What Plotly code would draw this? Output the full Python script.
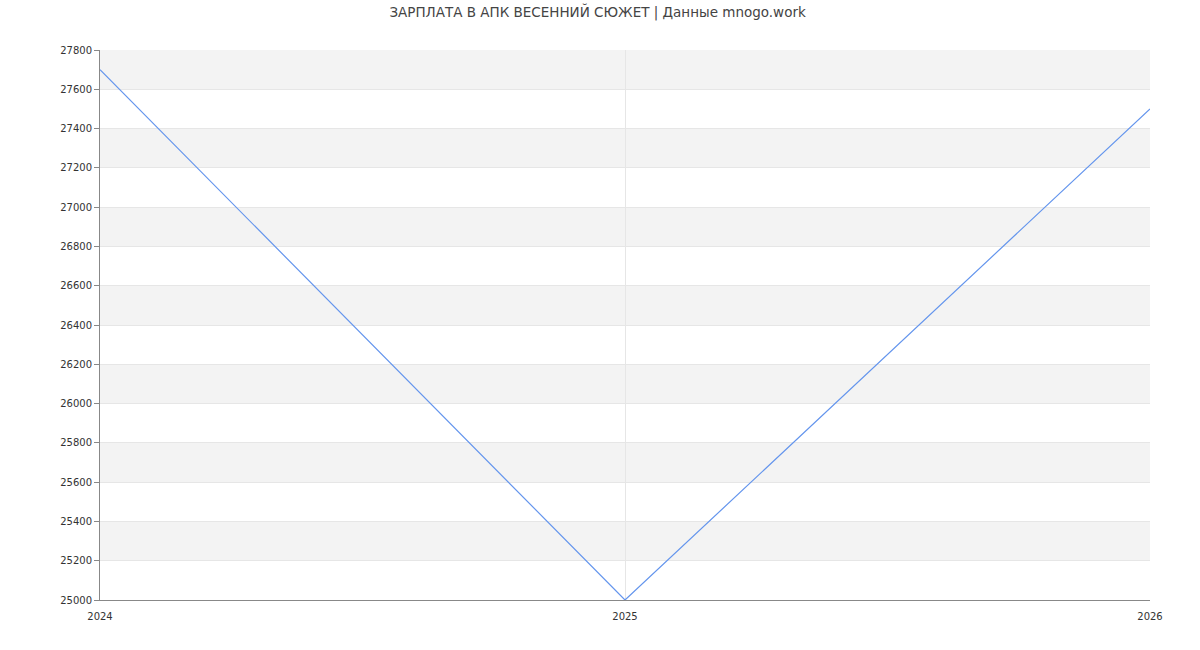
import plotly.graph_objects as go

years = [2024, 2025, 2026]
salary = [27700, 25000, 27500]
y_min, y_max, y_step = 25000, 27800, 200
title_text = "ЗАРПЛАТА В АПК ВЕСЕННИЙ СЮЖЕТ | Данные mnogo.work"

fig = go.Figure()
fig.add_trace(go.Scatter(
    x=years, y=salary, mode="lines",
    line=dict(color="#6495ED", width=1.2),
    hoverinfo="x+y", showlegend=False,
))

# alternating horizontal bands
shapes = []
lo = y_min + y_step
while lo < y_max:
    shapes.append(dict(
        type="rect", xref="paper", yref="y", x0=0, x1=1,
        y0=lo, y1=lo + y_step, fillcolor="#f3f3f3",
        line=dict(width=0), layer="below",
    ))
    lo += 2 * y_step

fig.update_layout(
    width=1200, height=650,
    margin=dict(l=100, r=50, t=50, b=50),
    paper_bgcolor="white", plot_bgcolor="white",
    font=dict(family="DejaVu Sans", size=11, color="#333"),
    title=dict(text=title_text, x=0.498, xanchor="center", y=0.988, yanchor="top",
               font=dict(size=13.5, color="#444")),
    shapes=shapes,
    xaxis=dict(
        range=[years[0], years[-1]], tickvals=years, ticktext=[str(v) for v in years],
        showgrid=True, gridcolor="#e6e6e6", gridwidth=1,
        showline=True, linecolor="#888", linewidth=1,
        ticks="outside", ticklen=7, tickcolor="rgba(0,0,0,0)",
        zeroline=False, tickfont=dict(size=10, color="#333"),
    ),
    yaxis=dict(
        range=[y_min, y_max], dtick=y_step, tick0=y_min,
        showgrid=True, gridcolor="#e6e6e6", gridwidth=1,
        showline=True, linecolor="#888", linewidth=1,
        ticks="outside", ticklen=5, tickcolor="#888",
        zeroline=False, tickfont=dict(size=10, color="#333"),
        tickformat="d",
    ),
)

fig.write_html("out.html")
